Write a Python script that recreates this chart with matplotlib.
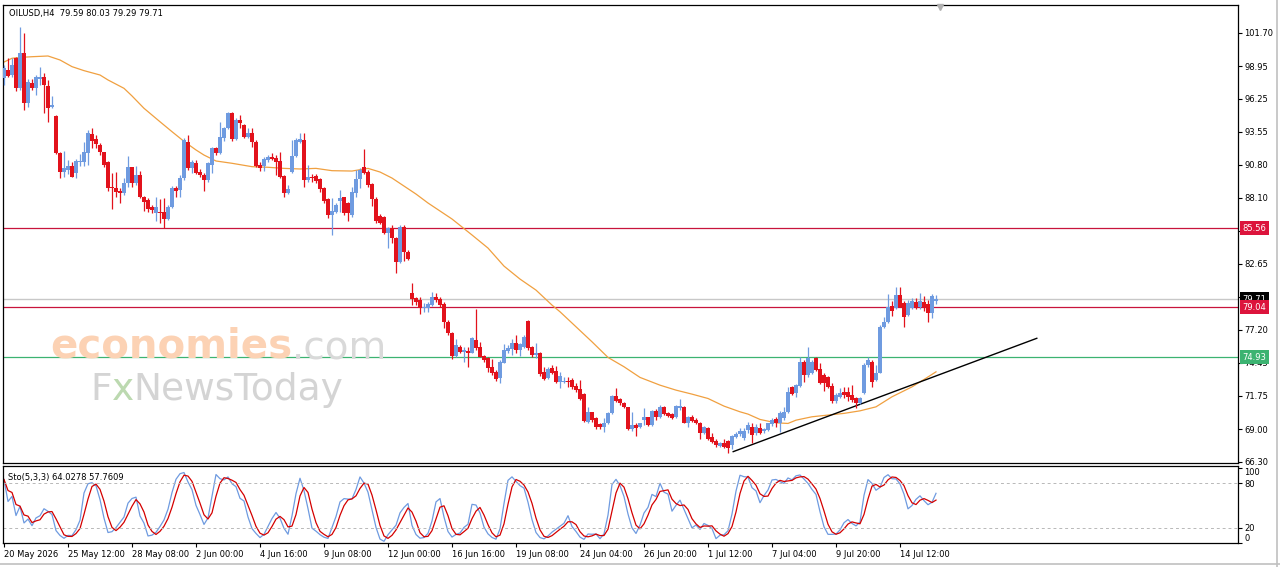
import matplotlib.pyplot as plt
import numpy as np
import pandas as pd
from matplotlib.transforms import blended_transform_factory
from matplotlib.lines import Line2D

plt.rcParams['font.family'] = 'DejaVu Sans'

##### data ######

opens = [97.98, 98.64, 98.23, 99.64, 97.16, 100.05, 95.92, 97.57, 97.16, 97.90,
         98.07, 97.32, 95.59, 94.84, 91.79, 90.22, 90.38, 90.71, 90.14, 91.04,
         91.04, 91.79, 93.36, 92.94, 92.45, 91.87, 91.04, 88.98, 88.90, 88.65,
         88.48, 89.31, 90.63, 89.31, 89.97, 88.15, 87.91, 87.32, 86.83, 86.91,
         86.91, 86.34, 87.32, 88.90, 88.73, 89.72, 92.70, 90.55, 90.96, 90.22,
         89.97, 89.56, 90.80, 92.20, 91.79, 93.03, 93.85, 95.09, 92.94, 94.51,
         94.10, 93.11, 93.44, 92.70, 90.80, 90.71, 91.21, 91.46, 91.37, 91.13,
         89.89, 88.48, 90.22, 91.54, 92.70, 92.86, 89.56, 89.81, 89.89, 89.64,
         88.90, 88.00, 86.67, 86.91, 87.83, 88.15, 87.66, 86.67, 88.48, 89.64,
         90.63, 90.22, 89.23, 87.99, 86.60, 86.50, 85.18, 85.59, 84.77, 82.79,
         85.67, 83.61, 80.23, 79.81, 79.65, 78.99, 78.99, 79.23, 79.90, 79.73,
         79.32, 77.83, 76.92, 75.02, 75.77, 75.35, 75.44, 75.27, 76.35, 75.77,
         75.02, 74.85, 74.12, 73.70, 73.20, 74.44, 75.44, 75.60, 76.10, 75.52,
         75.77, 77.91, 75.77, 75.11, 75.27, 73.70, 73.20, 74.03, 73.78, 72.88,
         72.88, 72.96, 73.04, 72.54, 72.30, 71.88, 69.57, 70.40, 69.90, 69.41,
         69.16, 69.49, 70.32, 71.72, 71.47, 71.14, 70.81, 69.00, 69.33, 69.16,
         69.73, 69.99, 69.33, 70.48, 69.99, 70.81, 70.32, 70.23, 69.99, 70.73,
         70.81, 69.49, 69.99, 69.73, 69.49, 68.66, 69.08, 68.33, 68.00, 67.59,
         67.84, 68.00, 67.67, 68.33, 68.58, 68.25, 68.91, 69.16, 68.66, 69.08,
         68.83, 68.91, 69.41, 69.82, 69.49, 69.90, 70.40, 72.46, 71.97, 72.54,
         74.52, 73.45, 73.62, 74.85, 73.95, 73.45, 73.29, 72.54, 71.30, 71.63,
         72.05, 72.05, 71.80, 71.55, 71.14, 71.97, 74.28, 74.52, 73.04, 73.62,
         77.42, 77.83, 79.15, 78.99, 80.06, 79.40, 78.41, 78.99, 79.48, 79.07,
         79.48, 79.32, 78.58, 79.59]

highs = [99.06, 99.64, 99.64, 99.72, 102.20, 101.70, 97.90, 97.90, 98.23, 98.89,
         98.40, 97.82, 96.50, 94.93, 91.87, 91.95, 91.21, 91.04, 91.29, 91.71,
         92.70, 93.69, 93.85, 93.28, 92.61, 91.87, 91.13, 90.14, 90.22, 88.90,
         89.72, 91.54, 90.63, 90.71, 90.30, 88.23, 88.07, 87.49, 88.15, 88.00,
         88.07, 87.49, 89.06, 89.06, 89.97, 93.03, 93.28, 91.21, 91.21, 90.47,
         90.14, 91.04, 92.28, 92.28, 94.35, 93.94, 95.17, 95.17, 94.68, 94.93,
         94.18, 93.85, 93.85, 92.86, 91.04, 91.46, 91.62, 91.79, 91.62, 91.87,
         89.97, 89.14, 92.86, 93.03, 93.44, 93.44, 90.80, 90.05, 90.05, 89.72,
         88.98, 88.07, 88.07, 87.66, 88.73, 88.15, 87.74, 88.98, 90.38, 90.55,
         92.12, 90.38, 89.31, 88.15, 86.75, 86.60, 85.67, 85.85, 84.85, 85.85,
         85.85, 83.78, 81.05, 79.90, 79.90, 79.40, 79.48, 80.31, 80.23, 79.90,
         79.48, 78.00, 77.00, 76.43, 75.93, 75.77, 75.77, 76.60, 78.91, 76.18,
         75.11, 74.94, 74.77, 73.87, 74.69, 76.02, 75.93, 76.43, 76.76, 76.10,
         76.76, 78.00, 75.85, 76.10, 75.35, 74.12, 74.12, 74.28, 74.20, 73.70,
         73.29, 73.29, 73.20, 72.79, 73.04, 71.97, 70.81, 70.40, 69.99, 69.49,
         69.90, 70.40, 71.80, 72.38, 71.55, 71.22, 70.81, 70.40, 69.49, 69.49,
         70.73, 69.99, 70.56, 70.64, 70.97, 70.89, 70.40, 70.32, 70.97, 71.47,
         70.89, 70.07, 70.15, 69.90, 69.57, 69.24, 69.16, 68.66, 68.17, 67.92,
         68.17, 68.08, 68.49, 68.74, 69.08, 69.08, 69.57, 69.49, 69.41, 69.49,
         69.08, 69.49, 69.90, 69.99, 70.48, 70.81, 72.46, 72.54, 72.71, 74.94,
         74.69, 75.77, 74.69, 74.94, 74.44, 73.62, 73.37, 72.79, 71.97, 72.38,
         72.46, 72.46, 72.63, 71.63, 71.63, 74.44, 74.94, 74.69, 74.28, 77.58,
         78.25, 80.14, 79.56, 80.72, 80.72, 79.56, 79.65, 79.81, 79.81, 80.23,
         79.98, 79.65, 80.14, 80.03]

lows = [97.40, 98.07, 98.07, 96.91, 96.99, 95.34, 95.59, 96.99, 96.58, 97.40,
        95.09, 94.35, 95.51, 91.70, 89.72, 89.81, 90.05, 89.81, 89.72, 90.71,
        90.71, 90.80, 92.20, 92.20, 91.62, 90.63, 88.65, 87.16, 88.15, 87.66,
        88.32, 88.98, 88.98, 89.14, 88.07, 87.00, 86.91, 86.83, 86.17, 86.00,
        85.59, 86.26, 87.24, 88.15, 88.15, 89.56, 90.38, 90.14, 90.05, 89.81,
        88.65, 89.39, 90.14, 91.62, 91.71, 92.78, 93.77, 92.78, 92.86, 93.85,
        93.03, 93.03, 92.28, 90.63, 90.30, 90.30, 91.04, 91.21, 89.97, 89.72,
        88.15, 88.40, 90.14, 91.46, 92.61, 88.98, 89.39, 89.39, 89.31, 88.57,
        87.66, 86.42, 85.02, 86.83, 86.91, 86.67, 86.17, 86.50, 88.15, 88.90,
        90.05, 88.98, 87.41, 86.00, 85.90, 85.10, 83.94, 84.35, 81.88, 82.70,
        82.87, 82.95, 79.23, 79.23, 78.49, 78.66, 78.66, 79.15, 79.48, 79.07,
        77.33, 76.76, 74.77, 74.94, 75.27, 74.52, 74.10, 75.27, 75.52, 74.94,
        74.52, 73.70, 73.45, 72.96, 72.79, 74.44, 75.27, 75.11, 75.27, 75.02,
        75.69, 75.52, 74.94, 74.85, 73.37, 73.04, 73.12, 73.53, 72.79, 72.38,
        72.79, 72.46, 72.30, 72.05, 71.38, 69.57, 69.48, 69.57, 69.00, 69.00,
        68.74, 69.41, 70.23, 71.22, 70.97, 70.73, 68.91, 68.83, 68.41, 69.08,
        69.33, 69.24, 69.24, 69.73, 69.90, 70.15, 69.99, 69.82, 69.90, 70.56,
        69.49, 69.16, 69.57, 69.41, 68.17, 68.58, 68.08, 67.84, 67.50, 67.50,
        67.42, 67.02, 67.34, 68.25, 68.41, 68.08, 68.66, 67.84, 68.49, 68.58,
        68.66, 68.83, 69.24, 69.16, 68.76, 69.73, 70.32, 71.80, 71.63, 72.46,
        72.88, 73.29, 73.53, 73.78, 72.71, 72.13, 72.38, 71.14, 71.14, 71.55,
        71.55, 71.30, 71.22, 70.73, 71.05, 71.88, 74.12, 72.46, 72.96, 73.62,
        77.33, 77.75, 78.33, 78.91, 79.07, 77.42, 78.33, 78.91, 78.91, 78.91,
        78.74, 77.83, 78.17, 79.29]

closes = [98.81, 98.15, 99.06, 97.16, 100.05, 95.92, 97.65, 97.16, 98.07, 98.07,
          97.40, 95.51, 95.75, 91.79, 90.22, 90.55, 90.71, 89.81, 91.13, 91.13,
          91.87, 93.44, 92.78, 92.53, 91.87, 90.80, 88.90, 88.90, 88.57, 88.48,
          89.31, 90.63, 89.31, 89.97, 88.15, 87.74, 87.16, 87.08, 87.32, 86.83,
          86.34, 87.32, 88.90, 88.65, 89.72, 92.86, 90.55, 91.04, 90.14, 89.97,
          89.56, 90.96, 92.20, 91.79, 93.11, 93.85, 95.09, 92.94, 94.51, 94.27,
          93.11, 93.44, 92.70, 90.71, 90.55, 91.29, 91.46, 91.29, 91.04, 89.81,
          88.48, 88.82, 91.54, 92.86, 92.94, 89.56, 89.81, 89.72, 89.48, 88.82,
          87.83, 86.67, 87.00, 87.49, 88.07, 86.83, 86.83, 88.57, 89.64, 90.38,
          90.14, 89.14, 87.99, 86.17, 85.98, 85.18, 85.59, 84.77, 82.79, 85.67,
          83.61, 83.03, 79.73, 79.48, 78.99, 79.07, 79.32, 79.90, 79.65, 79.23,
          77.83, 76.92, 75.02, 75.93, 75.35, 75.52, 75.27, 76.51, 75.69, 74.94,
          74.69, 74.03, 73.62, 73.12, 74.52, 75.52, 75.69, 76.10, 75.52, 76.02,
          76.60, 75.69, 75.11, 75.27, 73.53, 73.12, 73.95, 73.62, 72.88, 73.37,
          72.96, 72.88, 72.46, 72.21, 71.47, 69.65, 70.40, 69.73, 69.16, 69.16,
          69.49, 70.32, 71.72, 71.30, 71.14, 70.81, 69.00, 69.33, 69.08, 69.49,
          69.99, 69.33, 70.48, 69.99, 70.81, 70.23, 70.07, 69.90, 70.89, 70.89,
          69.49, 69.99, 69.65, 69.49, 68.66, 69.16, 68.17, 67.92, 67.67, 67.84,
          67.50, 67.42, 68.41, 68.58, 68.83, 68.83, 69.33, 68.49, 69.16, 68.66,
          68.99, 69.49, 69.73, 69.49, 70.32, 70.40, 72.05, 71.88, 72.63, 74.52,
          73.45, 74.85, 74.52, 73.87, 72.79, 72.79, 72.46, 71.30, 71.80, 71.97,
          71.80, 71.63, 71.38, 71.14, 71.55, 74.28, 74.69, 72.88, 73.62, 77.42,
          77.83, 79.07, 78.74, 80.06, 79.07, 78.25, 79.40, 79.56, 79.07, 79.56,
          79.07, 78.58, 79.98, 79.71]

# moving average (bar index, price)
ma_bars = [0, 2, 4, 7, 11, 14, 17, 20, 24, 26, 30, 32, 35, 39, 42, 45, 48, 50, 53,
           57, 62, 66, 70, 74, 78, 82, 87, 91, 94, 97, 100, 103, 106, 109, 112,
           117, 121, 125, 129, 133, 137, 139, 143, 147, 151, 155, 159, 164, 168,
           172, 176, 180, 184, 186, 189, 193, 196, 198, 202, 206, 210, 214, 218,
           222, 227, 230, 233]
ma_vals = [99.30, 99.61, 99.68, 99.74, 99.80, 99.47, 98.92, 98.59, 98.23, 97.82,
           97.13, 96.50, 95.48, 94.37, 93.55, 92.75, 92.04, 91.62, 91.13, 90.94,
           90.66, 90.61, 90.52, 90.47, 90.52, 90.33, 90.30, 90.52, 90.22, 89.72,
           89.06, 88.40, 87.66, 87.00, 86.34, 85.02, 83.94, 82.45, 81.38, 80.47,
           79.23, 78.68, 77.44, 76.20, 74.91, 74.14, 73.26, 72.62, 72.21, 71.88,
           71.52, 70.89, 70.42, 70.23, 69.79, 69.51, 69.46, 69.73, 70.01, 70.15,
           70.29, 70.50, 70.83, 71.66, 72.48, 73.09, 73.72]

trend_bars = [182.3, 258.2]
trend_vals = [67.13, 76.49]

level_red = [85.56, 79.04]
level_green = 74.93
last_price = 79.71

price_ticks = [101.70, 98.95, 96.25, 93.55, 90.80, 88.10, 85.35, 82.65, 79.90,
               77.20, 74.45, 71.75, 69.00, 66.30]
# labels hidden behind the price tags in the original
hidden_ticks = [85.35, 79.90]

tick_bars = [0, 16, 32, 48, 64, 80, 96, 112, 128, 144, 160, 176, 192, 208, 224]
tick_labels = ['20 May 2026', '25 May 12:00', '28 May 08:00', '2 Jun 00:00',
               '4 Jun 16:00', '9 Jun 08:00', '12 Jun 00:00', '16 Jun 16:00',
               '19 Jun 08:00', '24 Jun 04:00', '26 Jun 20:00', '1 Jul 12:00',
               '7 Jul 04:00', '9 Jul 20:00', '14 Jul 12:00']

##### stochastic 5,3,3 ######
df = pd.DataFrame({'h': highs, 'l': lows, 'c': closes})
ll = df['l'].rolling(5, min_periods=1).min()
hh = df['h'].rolling(5, min_periods=1).max()
sto_k = 100 * (df['c'] - ll).rolling(3, min_periods=1).sum() / (hh - ll).rolling(3, min_periods=1).sum()
sto_d = sto_k.rolling(3, min_periods=1).mean()

##### figure ######
W, H = 1280, 567
fig = plt.figure(figsize=(12.8, 5.67), dpi=100)
ax = fig.add_axes([3 / W, 1 - 463 / H, 1235 / W, 458 / H])
ax2 = fig.add_axes([3 / W, 1 - 543 / H, 1235 / W, 77 / H])

bull = '#6f9be0'
bear = '#e2121c'
crimson = '#dc143c'
green = '#3cb371'

o = np.array(opens)
c = np.array(closes)
x = np.arange(len(o))
up = c >= o
col = np.where(up, bull, bear)

ax.vlines(x, lows, highs, colors=col, lw=0.9, zorder=3)
body_lo = np.minimum(o, c)
body_h = np.maximum(np.abs(c - o), 0.06)
ax.bar(x, body_h, bottom=body_lo, width=0.82, color=col, lw=0, zorder=3)

ax.plot(ma_bars, ma_vals, color='#f0a040', lw=0.9, zorder=2.5)
ax.plot(trend_bars, trend_vals, color='black', lw=1.0, zorder=2.6)

ax.axhline(last_price, color='#c8c8c8', lw=1.0, zorder=1)
for lv in level_red:
    ax.axhline(lv, color='#c8143c', lw=0.9, zorder=1)
ax.axhline(level_green, color=green, lw=0.9, zorder=1)

ax.set_xlim(-0.25, 308.5)
ax.set_ylim(66.193, 104.01)
ax.set_xticks([])
ax.yaxis.tick_right()
ax.set_yticks(price_ticks)
ax.set_yticklabels(['' if p in hidden_ticks else '%.2f' % p for p in price_ticks])
ax.tick_params(axis='y', length=3, width=0.8, pad=1.5, labelsize=6, colors='black')
for s in ax.spines.values():
    s.set_linewidth(0.9)
    s.set_color('black')

# price tags on the right axis
trans = blended_transform_factory(ax.transAxes, ax.transData)
tags = [(level_red[0], crimson), (last_price, 'black'), (level_red[1], crimson), (level_green, green)]
for val, fc in tags:
    ax.text(1.0035, val, '%.2f' % val, transform=trans, color='white', fontsize=6,
            ha='left', va='center', clip_on=False, zorder=6,
            bbox=dict(boxstyle='square,pad=0.3', fc=fc, ec='none'))

ax.text(0.0049, 0.9825, 'OILUSD,H4  79.59 80.03 79.29 79.71', transform=ax.transAxes,
        fontsize=6, va='center', ha='left')

# chart shift marker
ax.plot([234], [103.85], marker='v', color='#b0b0b0', ms=5, clip_on=False, zorder=4)

# watermark
t1 = ax.text(47 / 1235, 1 - (358 - 5) / 458, 'economies', transform=ax.transAxes,
             fontsize=29, fontweight='bold', color='#fcd2b4', ha='left', va='baseline', zorder=2)
ax.annotate('.com', xy=(1, 0), xycoords=t1, xytext=(0, 0), textcoords='offset points',
            fontsize=28, color='#d9d9d9', ha='left', va='bottom', zorder=2)
t2 = ax.text(87 / 1235, 1 - (400 - 5) / 458, 'F', transform=ax.transAxes,
             fontsize=27, color='#d4d4d4', ha='left', va='baseline', zorder=2)
t3 = ax.annotate('x', xy=(1, 0), xycoords=t2, xytext=(0, 0), textcoords='offset points',
                 fontsize=27, color='#bcd9b0', ha='left', va='bottom', zorder=2)
ax.annotate('NewsToday', xy=(1, 0), xycoords=t3, xytext=(0, 0), textcoords='offset points',
            fontsize=27, color='#d4d4d4', ha='left', va='bottom', zorder=2)

##### stochastic panel ######
ax2.plot(x, sto_k, color=bull, lw=0.9)
ax2.plot(x, sto_d, color='#d40000', lw=0.9)
ax2.axhline(80, color='#b8b8b8', lw=0.7, ls=(0, (3, 3)))
ax2.axhline(20, color='#b8b8b8', lw=0.7, ls=(0, (3, 3)))
ax2.set_xlim(-0.25, 308.5)
ax2.set_ylim(-0.4, 103.1)
ax2.yaxis.tick_right()
ax2.set_yticks([0, 20, 80, 100])
ax2.set_yticklabels(['0', '20', '80', '100'])
ax2.tick_params(axis='y', length=3, width=0.8, pad=1.5, labelsize=6)
labs = ax2.get_yticklabels()
labs[0].set_va('bottom')
labs[3].set_va('top')
ax2.set_xticks(tick_bars)
ax2.set_xticklabels(tick_labels, ha='left')
ax2.tick_params(axis='x', length=3, width=0.8, pad=2, labelsize=6)
for s in ax2.spines.values():
    s.set_linewidth(0.9)
    s.set_color('black')
ax2.text(0.0041, 0.857, 'Sto(5,3,3) 64.0278 57.7609', transform=ax2.transAxes,
         fontsize=6, va='center', ha='left')

# outer frame
fig.add_artist(Line2D([1277 / W, 1277 / W], [0, 1], color='#c0c0c0', lw=1.2))
fig.add_artist(Line2D([0, 1], [1 - 564 / H, 1 - 564 / H], color='#c0c0c0', lw=1.2))

fig.savefig('out.png', dpi=100)
